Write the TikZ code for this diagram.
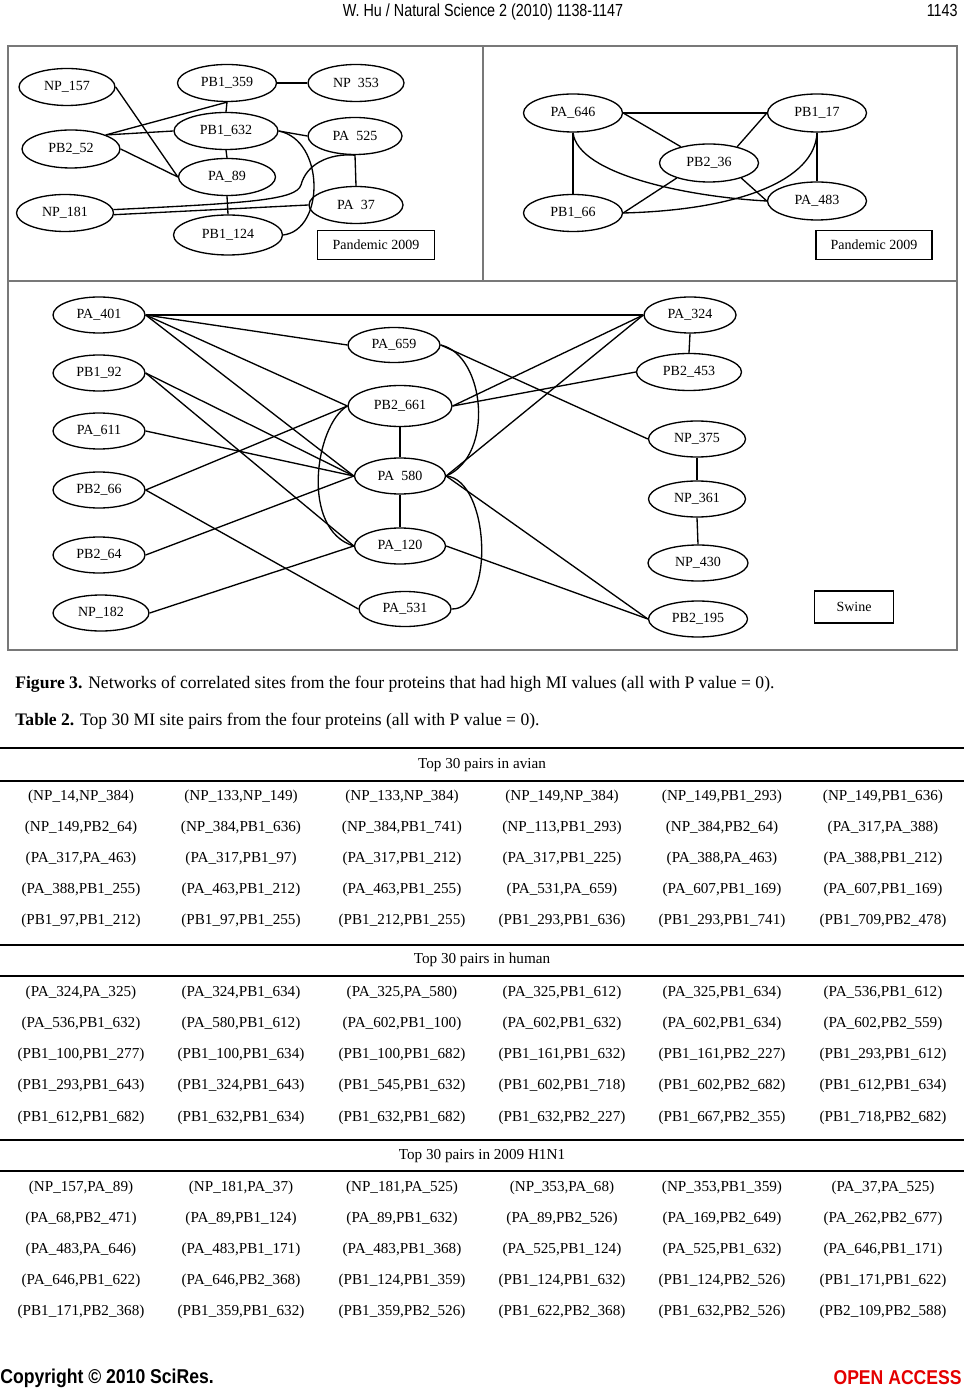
\documentclass[tikz,border=0pt]{standalone}
\usepackage{fontspec}
\setmainfont{Liberation Serif}
\newfontfamily\hdfont[FakeStretch=0.82]{Liberation Sans}
\newfontfamily\ftfont[FakeStretch=0.88]{Liberation Sans}
\usetikzlibrary{shapes.geometric}
\definecolor{framegray}{RGB}{120,120,120}
\definecolor{oared}{RGB}{228,0,0}
\newcommand\tabrow[8]{%
  \node[cell] (#2a) at (81,#1) {#3};
  \node[cell] (#2b) at (241,#1) {#4};
  \node[cell] (#2c) at (402,#1) {#5};
  \node[cell] (#2d) at (562,#1) {#6};
  \node[cell] (#2e) at (722,#1) {#7};
  \node[cell] (#2f) at (883,#1) {#8};}
\newcommand\gap{\hphantom{\_}}
\begin{document}
\begin{tikzpicture}[x=0.6pt,y=-0.6pt,
  ell/.style 2 args={ellipse, draw, line width=0.8pt, inner sep=0pt,
    minimum width={#1*0.6pt}, minimum height={#2*0.6pt},
    font=\fontsize{8.4}{10}\selectfont},
  tagbox/.style 2 args={rectangle, draw, line width=0.9pt, inner sep=0pt,
    minimum width={#1*0.6pt}, minimum height={#2*0.6pt},
    font=\fontsize{8.4}{10}\selectfont},
  edge/.style={line width=0.8pt},
  cell/.style={inner sep=0pt, font=\fontsize{9.1}{11}\selectfont},
  rule/.style={line width=0.7pt},
]
\useasboundingbox (0,0) rectangle (964,1389);
\fill[white] (0,0) rectangle (964,1389);

% header
\node[inner sep=0pt, font=\hdfont\fontsize{10.5}{12}\selectfont] (hd) at (483,12) {W. Hu / Natural Science 2 (2010) 1138-1147};
\node[inner sep=0pt, anchor=east, font=\hdfont\fontsize{10.5}{12}\selectfont] (pg) at (958,10) {1143};

% figure frame
\draw[framegray, line width=0.8pt] (8,46) rectangle (957,650);
\draw[framegray, line width=0.8pt] (483,46) -- (483,281);
\draw[framegray, line width=0.8pt] (8,281) -- (957,281);

% ---------- top-left network ----------
\node[ell={96}{37}] (np157) at (67,87) {NP\_157};
\node[ell={99}{37}] (pb1359) at (227,83) {PB1\_359};
\node[ell={96}{37}] (np353) at (356,83) {NP\gap353};
\node[ell={104}{37}] (pb1632) at (226,131) {PB1\_632};
\node[ell={94}{37}] (pa525) at (355,136) {PA\gap525};
\node[ell={98}{38}] (pb252) at (71,149) {PB2\_52};
\node[ell={97}{37}] (pa89) at (227,177) {PA\_89};
\node[ell={97}{37}] (np181) at (65,213) {NP\_181};
\node[ell={94}{37}] (pa37) at (356,205) {PA\gap37};
\node[ell={109}{40}] (pb1124) at (228,235) {PB1\_124};
\node[tagbox={117}{29}] (tagA) at (376,245) {Pandemic 2009};

\draw[edge] (pb1359.east) -- (np353.west);
\draw[edge] (pb1359.south) -- (pb1632.north);
\draw[edge] (pb1632.south) -- (pa89.north);
\draw[edge] (pa89.south) -- (pb1124.north);
\draw[edge] (pa525.south) -- (pa37.north);
\draw[edge] (pb1632.east) -- (pa525.west);
\draw[edge] (np157.east) -- (pa89.west);
\draw[edge] (pb252.22) -- (pb1359.south);
\draw[edge] (pb252.22) -- (pb1632.west);
\draw[edge] (pb252.east) -- (pa89.west);
\draw[edge] (np181.4) .. controls (250,203) and (296,200) .. (301,185)
  .. controls (306,165) and (328,153) .. (pa525.south);
\draw[edge] (np181.-2) -- (pa37.west);
\draw[edge] (pb1632.east) .. controls (325,140) and (325,230) .. (pb1124.east);

% ---------- top-right network ----------
\node[ell={99}{38}] (pa646) at (573,113) {PA\_646};
\node[ell={99}{38}] (pb117) at (817,113) {PB1\_17};
\node[ell={99}{38}] (pb236) at (709,163) {PB2\_36};
\node[ell={99}{37}] (pb166) at (573,213) {PB1\_66};
\node[ell={99}{38}] (pa483) at (817,201) {PA\_483};
\node[tagbox={116}{29}] (tagB) at (874,245) {Pandemic 2009};

\draw[edge] (pa646.east) -- (pb117.west);
\draw[edge] (pa646.east) -- (pb236.150);
\draw[edge] (pb117.west) -- (pb236.30);
\draw[edge] (pa646.south) -- (pb166.north);
\draw[edge] (pb117.south) -- (pa483.north);
\draw[edge] (pb236.205) -- (pb166.east);
\draw[edge] (pb236.-25) -- (pa483.west);
\draw[edge] (pa646.south) .. controls (578,175) and (690,197) .. (pa483.west);
\draw[edge] (pb166.east) .. controls (740,210) and (815,180) .. (pb117.south);

% ---------- bottom network ----------
\node[ell={92}{36}] (pa401) at (99,315) {PA\_401};
\node[ell={92}{36}] (pb192) at (99,373) {PB1\_92};
\node[ell={92}{36}] (pa611) at (99,431) {PA\_611};
\node[ell={92}{36}] (pb266) at (99,490) {PB2\_66};
\node[ell={92}{36}] (pb264) at (99,555) {PB2\_64};
\node[ell={96}{36}] (np182) at (101,613) {NP\_182};
\node[ell={92}{35}] (pa659) at (394,345) {PA\_659};
\node[ell={104}{41}] (pb2661) at (400,406) {PB2\_661};
\node[ell={91}{36}] (pa580) at (400,476) {PA\gap580};
\node[ell={91}{36}] (pa120) at (400,546) {PA\_120};
\node[ell={92}{35}] (pa531) at (405,609) {PA\_531};
\node[ell={92}{36}] (pa324) at (690,315) {PA\_324};
\node[ell={105}{37}] (pb2453) at (689,372) {PB2\_453};
\node[ell={97}{36}] (np375) at (697,439) {NP\_375};
\node[ell={97}{36}] (np361) at (697,499) {NP\_361};
\node[ell={100}{36}] (np430) at (698,563) {NP\_430};
\node[ell={99}{36}] (pb2195) at (698,619) {PB2\_195};
\node[tagbox={79}{32}] (tagC) at (854,607) {Swine};

\draw[edge] (pa401.east) -- (pa324.west);
\draw[edge] (pa401.east) -- (pa659.west);
\draw[edge] (pa401.east) -- (pb2661.west);
\draw[edge] (pa401.east) -- (pa580.west);
\draw[edge] (pb192.east) -- (pa580.west);
\draw[edge] (pb192.east) -- (pa120.west);
\draw[edge] (pa611.east) -- (pa580.west);
\draw[edge] (pb266.east) -- (pb2661.west);
\draw[edge] (pb266.east) -- (pa531.west);
\draw[edge] (pb264.east) -- (pa580.west);
\draw[edge] (np182.east) -- (pa120.west);
\draw[edge] (pb2661.south) -- (pa580.north);
\draw[edge] (pa580.south) -- (pa120.north);
\draw[edge] (pb2661.west) .. controls (315,425) and (300,530) .. (pa120.west);
\draw[edge] (pa659.east) .. controls (485,355) and (495,455) .. (pa580.east);
\draw[edge] (pa580.east) .. controls (490,480) and (495,610) .. (pa531.east);
\draw[edge] (pa659.east) -- (np375.west);
\draw[edge] (pb2661.east) -- (pa324.west);
\draw[edge] (pb2661.east) -- (pb2453.west);
\draw[edge] (pa580.east) -- (pa324.west);
\draw[edge] (pa580.east) -- (pb2195.west);
\draw[edge] (pa120.east) -- (pb2195.west);
\draw[edge] (pa324.south) -- (pb2453.north);
\draw[edge] (np375.south) -- (np361.north);
\draw[edge] (np361.south) -- (np430.north);

% ---------- captions ----------
\node[inner sep=0pt, anchor=west, font=\fontsize{10.55}{12}\selectfont] (cap3) at (15,684)
  {\textbf{Figure 3.} Networks of correlated sites from the four proteins that had high MI values (all with P value = 0).};
\node[inner sep=0pt, anchor=west, font=\fontsize{10.55}{12}\selectfont] (cap2) at (15,721)
  {\textbf{Table 2.} Top 30 MI site pairs from the four proteins (all with P value = 0).};

% ---------- table ----------
\draw[line width=1pt] (0,748) -- (964,748);
\draw[rule] (0,781) -- (964,781);
\draw[rule] (0,945) -- (964,945);
\draw[rule] (0,976) -- (964,976);
\draw[rule] (0,1140) -- (964,1140);
\draw[rule] (0,1171) -- (964,1171);

\node[cell] (hav) at (482,765) {Top 30 pairs in avian};
\node[cell] (hhu) at (482,960) {Top 30 pairs in human};
\node[cell] (hh1) at (482,1156) {Top 30 pairs in 2009 H1N1};

\tabrow{797}{av1}{(NP\_14,NP\_384)}{(NP\_133,NP\_149)}{(NP\_133,NP\_384)}{(NP\_149,NP\_384)}{(NP\_149,PB1\_293)}{(NP\_149,PB1\_636)}
\tabrow{828}{av2}{(NP\_149,PB2\_64)}{(NP\_384,PB1\_636)}{(NP\_384,PB1\_741)}{(NP\_113,PB1\_293)}{(NP\_384,PB2\_64)}{(PA\_317,PA\_388)}
\tabrow{859}{av3}{(PA\_317,PA\_463)}{(PA\_317,PB1\_97)}{(PA\_317,PB1\_212)}{(PA\_317,PB1\_225)}{(PA\_388,PA\_463)}{(PA\_388,PB1\_212)}
\tabrow{890}{av4}{(PA\_388,PB1\_255)}{(PA\_463,PB1\_212)}{(PA\_463,PB1\_255)}{(PA\_531,PA\_659)}{(PA\_607,PB1\_169)}{(PA\_607,PB1\_169)}
\tabrow{921}{av5}{(PB1\_97,PB1\_212)}{(PB1\_97,PB1\_255)}{(PB1\_212,PB1\_255)}{(PB1\_293,PB1\_636)}{(PB1\_293,PB1\_741)}{(PB1\_709,PB2\_478)}

\tabrow{993}{hu1}{(PA\_324,PA\_325)}{(PA\_324,PB1\_634)}{(PA\_325,PA\_580)}{(PA\_325,PB1\_612)}{(PA\_325,PB1\_634)}{(PA\_536,PB1\_612)}
\tabrow{1024}{hu2}{(PA\_536,PB1\_632)}{(PA\_580,PB1\_612)}{(PA\_602,PB1\_100)}{(PA\_602,PB1\_632)}{(PA\_602,PB1\_634)}{(PA\_602,PB2\_559)}
\tabrow{1055}{hu3}{(PB1\_100,PB1\_277)}{(PB1\_100,PB1\_634)}{(PB1\_100,PB1\_682)}{(PB1\_161,PB1\_632)}{(PB1\_161,PB2\_227)}{(PB1\_293,PB1\_612)}
\tabrow{1086}{hu4}{(PB1\_293,PB1\_643)}{(PB1\_324,PB1\_643)}{(PB1\_545,PB1\_632)}{(PB1\_602,PB1\_718)}{(PB1\_602,PB2\_682)}{(PB1\_612,PB1\_634)}
\tabrow{1118}{hu5}{(PB1\_612,PB1\_682)}{(PB1\_632,PB1\_634)}{(PB1\_632,PB1\_682)}{(PB1\_632,PB2\_227)}{(PB1\_667,PB2\_355)}{(PB1\_718,PB2\_682)}

\tabrow{1188}{sw1}{(NP\_157,PA\_89)}{(NP\_181,PA\_37)}{(NP\_181,PA\_525)}{(NP\_353,PA\_68)}{(NP\_353,PB1\_359)}{(PA\_37,PA\_525)}
\tabrow{1219}{sw2}{(PA\_68,PB2\_471)}{(PA\_89,PB1\_124)}{(PA\_89,PB1\_632)}{(PA\_89,PB2\_526)}{(PA\_169,PB2\_649)}{(PA\_262,PB2\_677)}
\tabrow{1250}{sw3}{(PA\_483,PA\_646)}{(PA\_483,PB1\_171)}{(PA\_483,PB1\_368)}{(PA\_525,PB1\_124)}{(PA\_525,PB1\_632)}{(PA\_646,PB1\_171)}
\tabrow{1281}{sw4}{(PA\_646,PB1\_622)}{(PA\_646,PB2\_368)}{(PB1\_124,PB1\_359)}{(PB1\_124,PB1\_632)}{(PB1\_124,PB2\_526)}{(PB1\_171,PB1\_622)}
\tabrow{1312}{sw5}{(PB1\_171,PB2\_368)}{(PB1\_359,PB1\_632)}{(PB1\_359,PB2\_526)}{(PB1\_622,PB2\_368)}{(PB1\_632,PB2\_526)}{(PB2\_109,PB2\_588)}

% ---------- footer ----------
\node[inner sep=0pt, anchor=west, font=\ftfont\bfseries\fontsize{12}{14}\selectfont] (cpy) at (0,1378) {Copyright © 2010 SciRes.};
\node[inner sep=0pt, anchor=east, text=oared, font=\ftfont\bfseries\fontsize{12}{14}\selectfont] (oa) at (962,1378) {OPEN ACCESS};
\end{tikzpicture}
\end{document}
